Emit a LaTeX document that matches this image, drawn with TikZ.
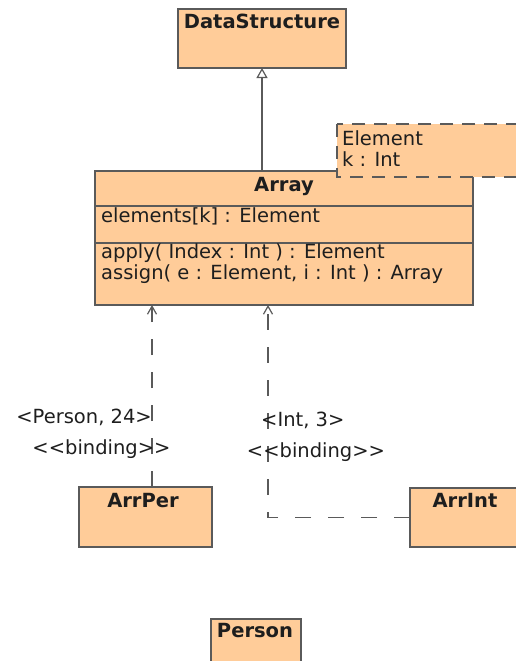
\documentclass[tikz,border=0pt]{standalone}
\usepackage{fontspec}
\setmainfont{DejaVu Sans}[Ligatures=TeXOff]
\usetikzlibrary{arrows.meta}
\definecolor{peach}{HTML}{FFCC99}
\definecolor{edge}{HTML}{5A5A5A}
\definecolor{ink}{HTML}{1E1E1E}
\begin{document}
\begin{tikzpicture}[x=1pt,y=-1pt,
  cls/.style={draw=edge, fill=peach, line width=1.3pt, rectangle, inner sep=0pt, outer sep=0pt},
  tmpl/.style={draw=edge, fill=peach, line width=1.3pt, dash pattern=on 13pt off 9pt},
  ttl/.style={font=\fontsize{19.5}{21}\selectfont\bfseries, text=ink, inner sep=0pt},
  txt/.style={font=\fontsize{19.5}{21}\selectfont, text=ink, inner sep=0pt},
  gen/.style={draw=edge, line width=1.2pt, -{Triangle[open, length=10pt, width=11pt, fill=white]}},
  dep/.style={draw=edge, line width=1.2pt, dash pattern=on 16pt off 17pt, -{Straight Barb[length=8pt, width=9pt]}},
  divider/.style={draw=edge, line width=1.3pt}]
\useasboundingbox (0,0) rectangle (516,661);
\clip (0,0) rectangle (516,661);
% class boxes
\node[cls, minimum width=168pt, minimum height=59pt] (ds) at (262,38.5) {};
\node[ttl, anchor=base] (dst) at (262,29) {DataStructure};
\node[cls, minimum width=378pt, minimum height=134pt] (arr) at (284,238) {};
\node[ttl, anchor=base] (arrt) at (284,191) {Array};
\draw[divider] (95,206) -- (473,206);
\draw[divider] (95,243) -- (473,243);
\node[txt, anchor=base west] (attr) at (101,222) {elements[k] : Element};
\node[txt, anchor=base west] (m1) at (101,258) {apply( Index : Int ) : Element};
\node[txt, anchor=base west] (m2) at (101,279) {assign( e : Element, i : Int ) : Array};
% template parameter box
\path[tmpl] (337,124) rectangle (540,177);
\node[txt, anchor=base west] (tp1) at (342,145) {Element};
\node[txt, anchor=base west] (tp2) at (342,166) {k : Int};
% bound classes
\node[cls, minimum width=133pt, minimum height=60pt] (arrper) at (145.5,517) {};
\node[ttl, anchor=base] (arrpert) at (143,507) {ArrPer};
\node[cls, minimum width=140pt, minimum height=59pt] (arrint) at (480,517.5) {};
\node[ttl, anchor=base] (arrintt) at (465,507) {ArrInt};
\node[cls, minimum width=90pt, minimum height=60pt] (person) at (256,649) {};
\node[ttl, anchor=base] (persont) at (255,637) {Person};
% connectors
\draw[gen] (arr.north -| ds.south) -- (ds.south);
\coordinate (lx) at (152,0);
\coordinate (rx) at (268,0);
\draw[dep] (arrper.north -| lx) -- (arr.south -| lx);
\draw[dep] (arrint.west) -| (arr.south -| rx);
% binding labels
\node[txt, anchor=base east] (lb1) at (152,423) {<Person, 24>};
\node[txt, anchor=base] (lb2) at (101.5,454) {<<binding>>};
\node[txt, anchor=base west] (rb1) at (261,426) {<Int, 3>};
\node[txt, anchor=base] (rb2) at (316,457) {<<binding>>};
\end{tikzpicture}
\end{document}
